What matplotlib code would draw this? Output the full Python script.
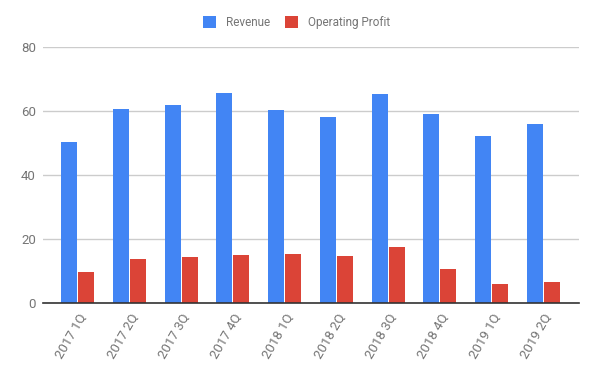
import matplotlib
matplotlib.use("Agg")
import matplotlib.pyplot as plt
import numpy as np

quarters = ["2017 1Q", "2017 2Q", "2017 3Q", "2017 4Q", "2018 1Q",
            "2018 2Q", "2018 3Q", "2018 4Q", "2019 1Q", "2019 2Q"]
revenue = [50.4, 60.7, 61.9, 65.6, 60.3, 58.2, 65.3, 59.1, 52.2, 55.9]
op_profit = [9.7, 13.8, 14.4, 15.1, 15.3, 14.8, 17.6, 10.7, 6.0, 6.6]

C_REV = "#4285F4"
C_OP = "#DB4437"
TXT = "#757575"

plt.rcParams["font.family"] = ["Roboto", "DejaVu Sans"]

fig = plt.figure(figsize=(5.97, 3.67), dpi=100)
ax = fig.add_axes([43 / 597, 1 - 303.3 / 367, 536 / 597, 256 / 367])

x = np.arange(len(quarters))
w = 0.31
ax.bar(x - w / 2 - 0.01, revenue, width=w, color=C_REV, zorder=3, label="Revenue")
ax.bar(x + w / 2 + 0.01, op_profit, width=w, color=C_OP, zorder=3, label="Operating Profit")

ax.set_ylim(0, 80)
ax.set_xlim(-0.67, 9.69)
ax.set_yticks([0, 20, 40, 60, 80])
ax.grid(axis="y", color="#cccccc", lw=1, zorder=0)
for s in ["top", "right", "left"]:
    ax.spines[s].set_visible(False)
ax.spines["bottom"].set_color("#333333")
ax.spines["bottom"].set_linewidth(1.2)
ax.spines["bottom"].set_zorder(4)
ax.tick_params(axis="both", length=0, colors=TXT, labelsize=9.5)
ax.tick_params(axis="y", pad=5)
ax.set_xticks(x)
ax.set_xticklabels(quarters, rotation=60, ha="right", rotation_mode="anchor")
ax.tick_params(axis="x", pad=6)

leg = fig.legend(loc="upper center", bbox_to_anchor=(0.497, 0.985), ncol=2, frameon=False,
                 fontsize=8.5, handlelength=1.1, handleheight=1.1, columnspacing=1.3,
                 handletextpad=0.8)
for t in leg.get_texts():
    t.set_color(TXT)

fig.savefig("out.png", dpi=100)
